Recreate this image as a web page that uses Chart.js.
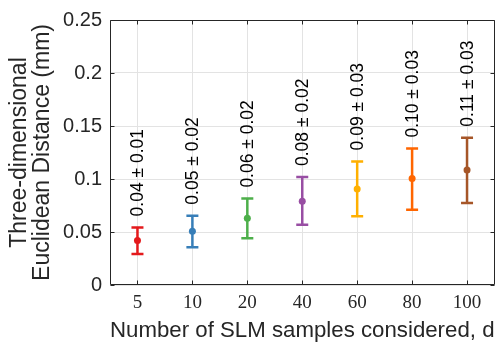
<!DOCTYPE html>
<html>
<head>
<meta charset="utf-8">
<script src="https://cdn.jsdelivr.net/npm/chart.js@4.4.1/dist/chart.umd.min.js"></script>
<style>
  html, body { margin: 0; padding: 0; background: #ffffff; }
  #wrap { width: 498px; height: 349px; }
</style>
</head>
<body>
<div id="wrap"><canvas id="c" width="498" height="349"></canvas></div>
<script>
// ---- data ----
const categories = ['5', '10', '20', '40', '60', '80', '100'];
const meanValues = [0.0420, 0.0508, 0.0630, 0.0791, 0.0906, 0.1004, 0.1086];
const upperValues = [0.0543, 0.0654, 0.0815, 0.1019, 0.1166, 0.1287, 0.1390];
const lowerValues = [0.0292, 0.0356, 0.0440, 0.0568, 0.0648, 0.0710, 0.0773];
const valueLabels = ['0.04 ± 0.01', '0.05 ± 0.02', '0.06 ± 0.02', '0.08 ± 0.02', '0.09 ± 0.03', '0.10 ± 0.03', '0.11 ± 0.03'];
const seriesColors = ['#e41a1c', '#377eb8', '#4daf4a', '#984ea3', '#ffb000', '#ff6600', '#a65628'];
const yTicks = [0, 0.05, 0.1, 0.15, 0.2, 0.25];

const AXIS_COLOR = '#262626';

const errorBarPlugin = {
  id: 'errorBars',
  beforeDatasetsDraw(chart) {
    const {ctx, scales: {x, y}} = chart;
    ctx.save();
    ctx.lineWidth = 2.5;
    ctx.lineCap = 'butt';
    categories.forEach((c, i) => {
      const px = x.getPixelForValue(i);
      const yt = y.getPixelForValue(upperValues[i]);
      const yb = y.getPixelForValue(lowerValues[i]);
      const hw = 6;
      ctx.strokeStyle = seriesColors[i];
      ctx.beginPath();
      ctx.moveTo(px, yt); ctx.lineTo(px, yb);
      ctx.moveTo(px - hw, yt); ctx.lineTo(px + hw, yt);
      ctx.moveTo(px - hw, yb); ctx.lineTo(px + hw, yb);
      ctx.stroke();
    });
    ctx.restore();
  },
  afterDatasetsDraw(chart) {
    const {ctx, scales: {x, y}} = chart;
    ctx.save();
    ctx.fillStyle = '#000000';
    ctx.font = '17.5px "Liberation Sans", Arial, sans-serif';
    ctx.textAlign = 'left';
    ctx.textBaseline = 'middle';
    categories.forEach((c, i) => {
      const px = x.getPixelForValue(i);
      const yt = y.getPixelForValue(upperValues[i]);
      ctx.save();
      ctx.translate(px + 1, yt - 11);
      ctx.rotate(-Math.PI / 2);
      ctx.fillText(valueLabels[i], 0, 0);
      ctx.restore();
    });
    ctx.restore();
  },
  afterDraw(chart) {
    const {ctx, chartArea: a, scales: {x, y}} = chart;
    ctx.save();
    ctx.strokeStyle = AXIS_COLOR;
    ctx.lineWidth = 1;
    const L = Math.round(a.left) + 0.5, R = Math.round(a.right) - 0.5;
    const T = Math.round(a.top) + 0.5, B = Math.round(a.bottom) - 0.5;
    ctx.beginPath();
    ctx.rect(L, T, R - L, B - T);
    const tl = 4;
    categories.forEach((c, i) => {
      const px = Math.round(x.getPixelForValue(i)) + 0.5;
      ctx.moveTo(px, B); ctx.lineTo(px, B - tl);
      ctx.moveTo(px, T); ctx.lineTo(px, T + tl);
    });
    yTicks.forEach(v => {
      const py = Math.round(y.getPixelForValue(v)) + 0.5;
      ctx.moveTo(L, py); ctx.lineTo(L + tl, py);
      ctx.moveTo(R, py); ctx.lineTo(R - tl, py);
    });
    ctx.stroke();
    ctx.restore();
  }
};

new Chart(document.getElementById('c'), {
  type: 'line',
  data: {
    labels: categories,
    datasets: [{
      data: meanValues,
      showLine: false,
      pointRadius: 3.5,
      pointHoverRadius: 3.5,
      pointBackgroundColor: seriesColors,
      pointBorderColor: seriesColors,
      pointBorderWidth: 0
    }]
  },
  options: {
    responsive: false,
    animation: false,
    events: [],
    layout: { padding: { top: 11, right: 3, left: 0, bottom: 0 } },
    plugins: { legend: { display: false }, tooltip: { enabled: false } },
    scales: {
      x: {
        type: 'category',
        offset: true,
        grid: { display: true, offset: false, color: '#e3e3e3', drawTicks: false },
        border: { display: false },
        ticks: {
          color: AXIS_COLOR,
          padding: 7,
          font: { family: '"Liberation Serif", "Times New Roman", serif', size: 19 },
          maxRotation: 0
        },
        title: {
          display: true,
          text: 'Number of SLM samples considered, d',
          color: AXIS_COLOR,
          font: { family: '"Liberation Sans", Arial, sans-serif', size: 22.5 },
          padding: { top: 0, bottom: 5 }
        },
        afterFit(scale) { scale.height = 64; }
      },
      y: {
        min: 0,
        max: 0.25,
        afterBuildTicks(scale) { scale.ticks = yTicks.map(v => ({ value: v })); },
        grid: { color: '#e3e3e3', drawTicks: false },
        border: { display: false },
        ticks: {
          color: AXIS_COLOR,
          padding: 8,
          font: { family: '"Liberation Sans", Arial, sans-serif', size: 20 },
          callback: v => String(+Number(v).toFixed(2))
        },
        title: {
          display: true,
          text: ['Three-dimensional', 'Euclidean Distance (mm)'],
          color: AXIS_COLOR,
          font: { family: '"Liberation Sans", Arial, sans-serif', size: 23, lineHeight: 1.0 },
          padding: { top: 8, bottom: 0 }
        },
        afterFit(scale) { scale.width = 110; }
      }
    }
  },
  plugins: [errorBarPlugin]
});
</script>
</body>
</html>
